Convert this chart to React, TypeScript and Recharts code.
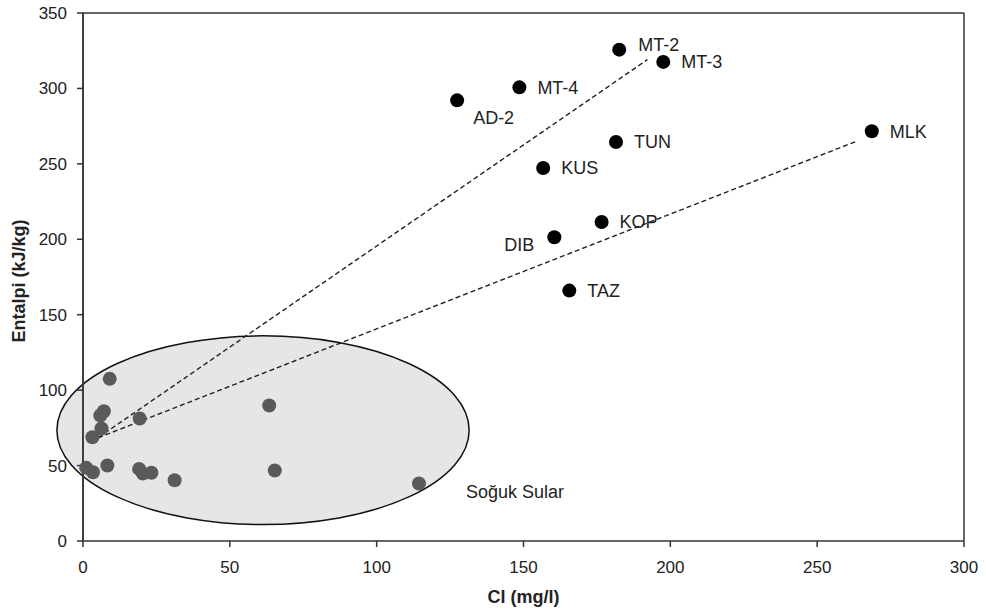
import React from 'react';
import {
  ScatterChart,
  Scatter,
  XAxis,
  YAxis,
  ReferenceLine,
  ReferenceArea,
  ReferenceDot,
  LabelList,
} from 'recharts';

// hot (thermal) waters, labelled
const hotNames = ['MT-2', 'MT-3', 'MT-4', 'AD-2', 'TUN', 'KUS', 'MLK', 'KOP', 'DIB', 'TAZ'];
const hotCl = [182.6, 197.6, 148.6, 127.4, 181.5, 156.7, 268.6, 176.6, 160.5, 165.6];
const hotEnthalpy = [325.7, 317.6, 300.7, 292.1, 264.5, 247.3, 271.6, 211.5, 201.3, 166.0];

// cold waters (Soğuk Sular)
const coldCl = [9.1, 7.1, 5.9, 19.3, 6.3, 3.2, 1.1, 3.4, 8.3, 19.1, 20.4, 23.3, 31.2, 63.4, 65.3, 114.4];
const coldEnthalpy = [107.5, 86.0, 83.2, 81.2, 74.6, 68.8, 48.5, 45.6, 50.0, 47.8, 44.7, 45.2, 40.3, 89.8, 46.7, 38.1];

// mixing lines: shared start, two ends
const mixStart = { x: 5.1, y: 68.4 };
const mixEnds = [
  { x: 192.2, y: 319.1 },
  { x: 263.3, y: 264.9 },
];

// cold water envelope (data units)
const coldZone = { x1: -8.9, x2: 131.5, y1: 10.9, y2: 136.0 };
const coldZoneLabel = { x: 130.4, y: 32.8, text: 'Soğuk Sular' };

const xTicks = [0, 50, 100, 150, 200, 250, 300];
const yTicks = [0, 50, 100, 150, 200, 250, 300, 350];

const hotData = hotNames.map((name, i) => ({ name, cl: hotCl[i], h: hotEnthalpy[i] }));
const coldData = coldCl.map((cl, i) => ({ cl, h: coldEnthalpy[i] }));

const FONT = '"Liberation Sans", Arial, sans-serif';
const INK = '#222';

// label placement around each dot
const labelPos: Record<string, { dx: number; dy: number; anchor?: string }> = {
  'MT-2': { dx: 19, dy: -5 },
  'AD-2': { dx: 16, dy: 17 },
  DIB: { dx: -20, dy: 7, anchor: 'end' },
};

const PointLabel = (props: any) => {
  const { x, y, width, height, value } = props;
  const cx = x + (width || 0) / 2;
  const cy = y + (height || 0) / 2;
  const p = labelPos[value] || { dx: 18, dy: 0 };
  return (
    <text
      x={cx + p.dx}
      y={cy + p.dy}
      dy="0.36em"
      textAnchor={p.anchor || 'start'}
      fontSize={18}
      fontFamily={FONT}
      fill={INK}
    >
      {value}
    </text>
  );
};

const Dot = (color: string) => (props: any) => (
  <circle cx={props.cx} cy={props.cy} r={7} fill={color} />
);

const Ellipse = (props: any) => {
  const { x, y, width, height } = props;
  return (
    <ellipse
      cx={x + width / 2}
      cy={y + height / 2}
      rx={width / 2}
      ry={height / 2}
      fill="#e6e6e6"
      stroke="#111"
      strokeWidth={1.5}
    />
  );
};

const ZoneText = (props: any) => (
  <text x={props.cx} y={props.cy} dy="0.36em" fontSize={18} fontFamily={FONT} fill={INK}>
    {coldZoneLabel.text}
  </text>
);

const XTitle = (props: any) => {
  const { x, width } = props.viewBox;
  return (
    <text x={x + width / 2} y={597} dy="0.36em" textAnchor="middle" fontSize={18} fontWeight="bold" fontFamily={FONT} fill={INK}>
      Cl (mg/l)
    </text>
  );
};

const YTitle = (props: any) => {
  const { y, height } = props.viewBox;
  const cy = y + height / 2 + 4;
  return (
    <text
      x={19}
      y={cy}
      dy="0.36em"
      transform={`rotate(-90, 19, ${cy})`}
      textAnchor="middle"
      fontSize={18}
      fontWeight="bold"
      fontFamily={FONT}
      fill={INK}
    >
      Entalpi (kJ/kg)
    </text>
  );
};

const tickStyle = { fontSize: 17, fontFamily: FONT, fill: INK };

export default function App() {
  return (
    <div style={{ position: 'absolute', left: 0, top: 0, width: 986, height: 612, background: '#fff' }}>
      <ScatterChart width={986} height={612} margin={{ top: 13, right: 22, bottom: 0, left: 0 }}>
        <XAxis
          type="number"
          dataKey="cl"
          domain={[0, 300]}
          ticks={xTicks}
          height={71}
          tickSize={6}
          tickMargin={14}
          tick={tickStyle}
          stroke="#333"
          strokeWidth={1.5}
          label={{ content: XTitle }}
        />
        <YAxis
          type="number"
          dataKey="h"
          domain={[0, 350]}
          ticks={yTicks}
          width={83}
          tickSize={6}
          tickMargin={10}
          tick={tickStyle}
          stroke="#333"
          strokeWidth={1.5}
          label={{ content: YTitle }}
        />
        <ReferenceArea
          x1={coldZone.x1}
          x2={coldZone.x2}
          y1={coldZone.y1}
          y2={coldZone.y2}
          ifOverflow="visible"
          shape={Ellipse}
        />
        {/* redraw the y axis line over the ellipse fill */}
        <ReferenceLine x={0} stroke="#333" strokeWidth={1.5} />
        <ReferenceLine y={350} stroke="#333" strokeWidth={1.5} />
        <ReferenceLine x={300} stroke="#333" strokeWidth={1.5} />
        {mixEnds.map((end, i) => (
          <ReferenceLine
            key={i}
            segment={[mixStart, end]}
            stroke="#222"
            strokeWidth={1.4}
            strokeDasharray="5 3"
          />
        ))}
        <ReferenceDot x={coldZoneLabel.x} y={coldZoneLabel.y} r={0} shape={ZoneText} />
        <Scatter data={coldData} shape={Dot('#5a5a5a')} isAnimationActive={false} />
        <Scatter data={hotData} shape={Dot('#000')} isAnimationActive={false}>
          <LabelList dataKey="name" content={PointLabel} />
        </Scatter>
      </ScatterChart>
    </div>
  );
}
